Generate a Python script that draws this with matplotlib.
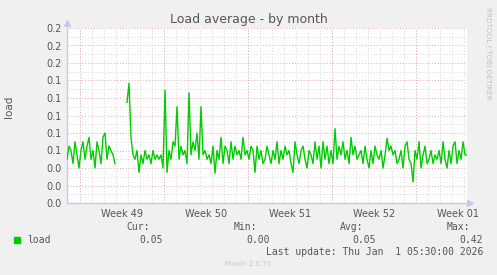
import numpy as np
import matplotlib
matplotlib.use('Agg')
import matplotlib.pyplot as plt

# load average, one sample every 4 hours (None = no data)
load = [
    0.05, 0.065, 0.06, 0.045, 0.07, 0.055, 0.04, 0.06, 0.07, 0.05,
    0.065, 0.075, 0.05, 0.06, 0.04, 0.07, 0.06, 0.045, 0.075, 0.08,
    0.05, 0.065, 0.06, 0.055, 0.045,
    None, None, None, None, None,
    0.115, 0.137, 0.075, 0.055, 0.05, 0.06, 0.035, 0.055, 0.045, 0.06,
    0.05, 0.055, 0.045, 0.06, 0.05, 0.055, 0.05, 0.055, 0.04, 0.129,
    0.035, 0.06, 0.05, 0.07, 0.065, 0.11, 0.05, 0.065, 0.055, 0.06,
    0.045, 0.126, 0.055, 0.07, 0.06, 0.08, 0.05, 0.11, 0.055, 0.06,
    0.05, 0.055, 0.045, 0.065, 0.034, 0.06, 0.05, 0.075, 0.045, 0.065,
    0.06, 0.045, 0.07, 0.05, 0.065, 0.055, 0.06, 0.05, 0.075, 0.055,
    0.06, 0.05, 0.065, 0.06, 0.035, 0.065, 0.05, 0.06, 0.045, 0.05,
    0.065, 0.055, 0.045, 0.06, 0.05, 0.07, 0.045, 0.06, 0.05, 0.065,
    0.055, 0.06, 0.045, 0.035, 0.07, 0.055, 0.045, 0.06, 0.065, 0.05,
    0.04, 0.06, 0.055, 0.045, 0.07, 0.05, 0.065, 0.04, 0.07, 0.05,
    0.065, 0.045, 0.06, 0.045, 0.085, 0.05, 0.065, 0.055, 0.07, 0.05,
    0.06, 0.045, 0.075, 0.055, 0.065, 0.05, 0.055, 0.06, 0.045, 0.065,
    0.05, 0.04, 0.06, 0.045, 0.065, 0.055, 0.05, 0.06, 0.04, 0.055,
    0.074, 0.06, 0.065, 0.055, 0.06, 0.045, 0.05, 0.06, 0.04, 0.065,
    0.07, 0.05, 0.045, 0.024, 0.06, 0.05, 0.07, 0.04, 0.055, 0.065,
    0.045, 0.05, 0.06, 0.045, 0.055, 0.05, 0.06, 0.045, 0.07, 0.05,
    0.04, 0.06, 0.045, 0.065, 0.07, 0.045, 0.06, 0.05, 0.07, 0.055,
    0.055,
]
samples_per_day = 6
span_days = 33.33
first_monday = 1.083      # days from left edge to start of week 49
week_labels = ['Week 49', 'Week 50', 'Week 51', 'Week 52', 'Week 01']

legend_heads = ['Cur:', 'Min:', 'Avg:', 'Max:']
legend_vals = ['0.05', '0.00', '0.05', '0.42']
last_update = 'Last update: Thu Jan  1 05:30:00 2026'

BG = '#F0F0F0'
TXT = '#555555'
GREEN = '#00CC00'
MINOR = '#D6D6D6'
MAJOR = '#E6AAAA'
AXIS = '#C8C8EE'

W, H = 497, 275
fig = plt.figure(figsize=(W / 100, H / 100), dpi=100, facecolor=BG)
ax = fig.add_axes([67 / W, (H - 203) / H, 400 / W, 175 / H])
ax.set_facecolor('white')

t = np.arange(len(load)) / samples_per_day
y = np.array([np.nan if v is None else v for v in load], dtype=float)
ax.plot(t, y, color=GREEN, lw=1.0, zorder=3)

ax.set_xlim(0, span_days)
ax.set_ylim(0, 0.2)

dot = (0, (1, 2))
# horizontal grid
for v in np.arange(0.01, 0.2001, 0.01):
    major = round(v * 100) % 2 == 0
    ax.axhline(v, color=MAJOR if major else MINOR, lw=0.7, ls=dot, zorder=1)
# vertical grid
d = first_monday
while d < span_days:
    ax.axvline(d, color=MINOR, lw=0.7, ls=dot, zorder=1)
    d += 1
week_starts = first_monday + 7 * np.arange(len(week_labels))
for ws in week_starts:
    ax.axvline(ws, color=MAJOR, lw=0.7, ls=dot, zorder=1.5)

ax.set_yticks(np.arange(0, 0.2001, 0.02))
ax.set_yticklabels(['%.1f' % v for v in np.arange(0, 0.2001, 0.02)])
ax.set_xticks(week_starts + 3.5)
ax.set_xticklabels(week_labels)
ax.tick_params(length=0, colors=TXT, labelsize=7, pad=4)

for s in ['top', 'right']:
    ax.spines[s].set_visible(False)
for s in ['left', 'bottom']:
    ax.spines[s].set_color(AXIS)
    ax.spines[s].set_linewidth(1.0)
ax.plot([0], [1.03], marker='^', color=AXIS, ms=4, transform=ax.transAxes, clip_on=False)
ax.plot([1.008], [0], marker='>', color=AXIS, ms=4, transform=ax.transAxes, clip_on=False)

fig.text(248.5 / W, 1 - 19 / H, 'Load average - by month', ha='center', va='center',
         color=TXT, fontsize=9)
fig.text(9 / W, 1 - 107 / H, 'load', rotation=90, ha='center', va='center',
         color=TXT, fontsize=7.5)
fig.text(488 / W, 1 - 53 / H, 'RRDTOOL / TOBI OETIKER', rotation=270, ha='center',
         va='center', color='#C0C0C0', fontsize=5.2)

mono = 'DejaVu Sans Mono'
fig.patches.append(plt.Rectangle((14 / W, 1 - 243 / H), 6 / W, 6 / H,
                                 transform=fig.transFigure, color=GREEN))
fig.text(27 / W, 1 - 240 / H, 'load', family=mono, ha='left', va='center',
         color=TXT, fontsize=7)
head_x = [150, 257, 363, 470]
val_x = [163, 270, 376, 483]
for hx, vx, hd, vl in zip(head_x, val_x, legend_heads, legend_vals):
    fig.text(hx / W, 1 - 227 / H, hd, family=mono, ha='right', va='center',
             color=TXT, fontsize=7)
    fig.text(vx / W, 1 - 240 / H, vl, family=mono, ha='right', va='center',
             color=TXT, fontsize=7)
fig.text(483 / W, 1 - 252 / H, last_update, family=mono, ha='right', va='center',
         color=TXT, fontsize=7)
fig.text(248.5 / W, 1 - 264 / H, 'Munin 2.0.73', ha='center', va='center',
         color='#C8C8C8', fontsize=5)

fig.savefig('out.png', dpi=100, facecolor=BG)
